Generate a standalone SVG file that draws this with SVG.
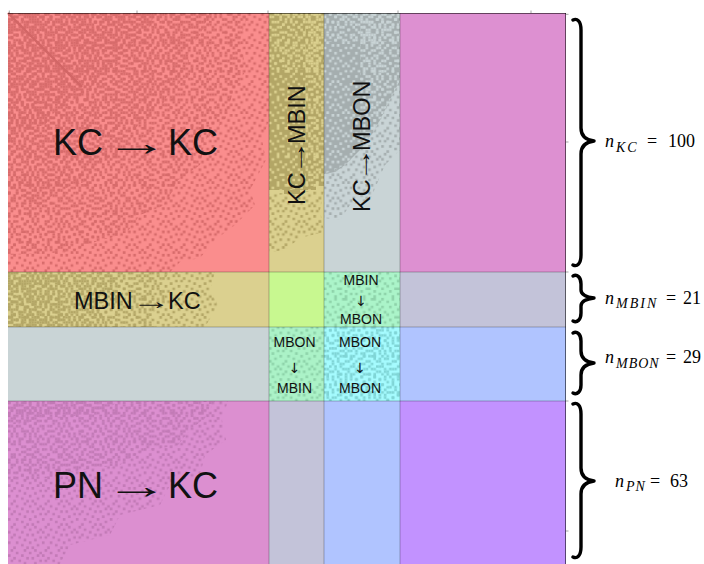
<svg xmlns="http://www.w3.org/2000/svg" width="704" height="564" viewBox="0 0 704 564">
  <style>
    .lbl { font-family: "Liberation Sans", Arial, sans-serif; fill: #111; }
    .big { font-size: 36px; }
    .mid { font-size: 23.5px; }
    .sm { font-size: 14px; }
    .arr { font-family: "DejaVu Sans", sans-serif; }
    .math { font-family: "Liberation Serif", "DejaVu Serif", serif; font-size: 18px; fill: #000; }
    .it { font-style: italic; }
    .sub { font-style: italic; font-size: 14px; }
    .grid { stroke: #000; stroke-opacity: 0.25; stroke-width: 1; }
    .frame { stroke: #000; stroke-opacity: 0.55; stroke-width: 1; }
    .tick { stroke: #000; stroke-width: 0.8; stroke-opacity: 0.45; }
    .brace { fill: none; stroke: #000; stroke-width: 3.4; stroke-linecap: round; stroke-linejoin: round; }
  </style>
  <defs>
    <!-- pseudo-random cell tiles, one unit = one matrix entry -->
    <pattern id="pA" patternUnits="userSpaceOnUse" width="11" height="11" patternTransform="translate(8 13) scale(2.61 2.59)">
      <path fill="#fff" d="M0 0h1v1h-1z M4 0h1v1h-1z M7 0h2v1h-2z M2 1h1v1h-1z M10 1h1v1h-1z M5 2h1v1h-1z M9 2h1v1h-1z M0 3h1v1h-1z M3 3h1v1h-1z M7 3h1v1h-1z M6 4h1v1h-1z M10 4h1v1h-1z M1 5h1v1h-1z M4 5h1v1h-1z M8 5h1v1h-1z M2 6h1v1h-1z M9 6h1v1h-1z M0 7h1v1h-1z M5 7h2v1h-2z M3 8h1v1h-1z M8 8h1v1h-1z M1 9h1v1h-1z M6 9h1v1h-1z M10 9h1v1h-1z M4 10h1v1h-1z M8 10h1v1h-1z"/>
    </pattern>
    <pattern id="pB" patternUnits="userSpaceOnUse" width="13" height="9" patternTransform="translate(8 13) scale(2.61 2.59)">
      <path fill="#fff" d="M1 0h1v1h-1z M6 0h1v1h-1z M10 0h1v1h-1z M3 1h1v1h-1z M8 1h1v1h-1z M12 1h1v1h-1z M0 2h1v1h-1z M5 2h1v1h-1z M11 2h1v1h-1z M2 3h1v1h-1z M7 3h1v1h-1z M9 3h1v1h-1z M1 4h1v1h-1z M4 4h1v1h-1z M12 4h1v1h-1z M6 5h1v1h-1z M10 5h1v1h-1z M0 6h1v1h-1z M3 6h1v1h-1z M8 6h1v1h-1z M5 7h1v1h-1z M11 7h1v1h-1z M2 8h1v1h-1z M7 8h1v1h-1z M9 8h1v1h-1z"/>
    </pattern>
    <pattern id="pC" patternUnits="userSpaceOnUse" width="7" height="13" patternTransform="translate(8 13) scale(2.61 2.59)">
      <path fill="#fff" d="M0 0h1v1h-1z M4 0h1v1h-1z M2 1h1v1h-1z M6 1h1v1h-1z M1 2h1v1h-1z M3 3h1v1h-1z M5 3h1v1h-1z M0 4h1v1h-1z M2 5h1v1h-1z M6 5h1v1h-1z M4 6h1v1h-1z M1 7h1v1h-1z M3 8h1v1h-1z M5 8h1v1h-1z M0 9h1v1h-1z M2 10h1v1h-1z M6 10h1v1h-1z M4 11h1v1h-1z M1 12h1v1h-1z M5 12h1v1h-1z"/>
    </pattern>
    <pattern id="pD" patternUnits="userSpaceOnUse" width="9" height="7" patternTransform="translate(8 13) scale(2.61 2.59)">
      <path fill="#fff" d="M0 0h1v1h-1z M5 0h1v1h-1z M3 1h1v1h-1z M7 1h1v1h-1z M1 2h1v1h-1z M6 3h1v1h-1z M8 3h1v1h-1z M2 4h1v1h-1z M4 4h1v1h-1z M0 5h1v1h-1z M7 5h1v1h-1z M1 6h1v1h-1z M3 6h1v1h-1z M5 6h1v1h-1z"/>
    </pattern>
    <mask id="mA" maskUnits="userSpaceOnUse" x="0" y="0" width="704" height="564"><rect width="704" height="564" fill="url(#pA)"/></mask>
    <mask id="mB" maskUnits="userSpaceOnUse" x="0" y="0" width="704" height="564"><rect width="704" height="564" fill="url(#pB)"/></mask>
    <mask id="mC" maskUnits="userSpaceOnUse" x="0" y="0" width="704" height="564"><rect width="704" height="564" fill="url(#pC)"/></mask>
    <mask id="mD" maskUnits="userSpaceOnUse" x="0" y="0" width="704" height="564"><rect width="704" height="564" fill="url(#pD)"/></mask>
  </defs>

  <rect width="704" height="564" fill="#fff"/>

  <!-- row KC -->
  <g id="kc-kc">
    <rect x="8" y="13" width="261" height="259" fill="#FA8D8D"/>
    <g fill="#D76B6B">
      <polygon points="8,13 269,13 269,120 262,140 266,160 250,190 255,205 235,225 215,240 200,258 180,262 170,272 8,272" mask="url(#mB)"/>
      <polygon points="8,13 248,13 240,40 246,70 232,95 225,120 205,140 200,165 178,180 165,205 140,215 125,235 100,240 70,252 8,255" mask="url(#mA)"/>
      <polygon points="8,13 210,13 200,35 188,50 190,75 170,90 160,110 138,125 128,145 105,160 90,180 60,190 40,205 8,200" mask="url(#mC)"/>
      <polygon points="8,13 155,13 148,30 130,45 118,65 100,75 85,95 60,105 45,125 20,130 8,145" mask="url(#mD)"/>
    </g>
    <line x1="8" y1="13" x2="82" y2="87" stroke="#D26666" stroke-width="2.4"/>
    <text class="lbl big" y="155"><tspan x="53">KC</tspan><tspan x="168">KC</tspan></text>
    <text class="lbl big" x="105" y="155" textLength="64" lengthAdjust="spacingAndGlyphs">→</text>
  </g>
  <g id="kc-mbin">
    <rect x="269" y="13" width="55" height="259" fill="#DBD08F"/>
    <polygon points="269,13 324,13 324,186 316,186 316,190 300,190 300,194 284,194 284,190 269,190" fill="#B3A666"/>
    <g fill="#DBD08F">
      <polygon points="269,13 324,13 324,190 269,190" mask="url(#mA)"/>
      <polygon points="269,13 324,13 324,70 269,70" mask="url(#mC)"/>
      <polygon points="305,13 324,13 324,186 305,186" mask="url(#mD)"/>
    </g>
    <polygon points="269,194 324,190 320,210 324,232 300,238 285,250 269,252" fill="#B3A666" mask="url(#mB)"/>
    <g transform="translate(305 205) rotate(-90)">
      <text class="lbl mid" y="0"><tspan x="0">KC</tspan><tspan x="61">MBIN</tspan></text>
      <text class="lbl mid" x="30" y="0" textLength="35" lengthAdjust="spacingAndGlyphs">→</text>
    </g>
  </g>
  <g id="kc-mbon">
    <rect x="324" y="13" width="76" height="259" fill="#C9D4D6"/>
    <polygon points="324,13 400,13 400,80 390,100 375,130 360,150 345,165 335,172 324,174" fill="#A5AEAF"/>
    <g fill="#C9D4D6">
      <polygon points="324,13 400,13 400,80 390,100 375,130 360,150 345,165 335,172 324,174" mask="url(#mB)"/>
      <polygon points="360,13 400,13 400,100 360,150" mask="url(#mA)"/>
      <polygon points="324,13 400,13 400,42 324,42" mask="url(#mC)"/>
    </g>
    <polygon points="324,174 345,165 360,150 375,130 390,100 400,80 400,150 385,165 370,200 350,205 340,220 324,218" fill="#A5AEAF" mask="url(#mB)"/>
    <g transform="translate(370 212) rotate(-90)">
      <text class="lbl mid" y="0"><tspan x="0">KC</tspan><tspan x="61">MBON</tspan></text>
      <text class="lbl mid" x="30" y="0" textLength="35" lengthAdjust="spacingAndGlyphs">→</text>
    </g>
  </g>
  <g id="kc-pn">
    <rect x="400" y="13" width="166" height="259" fill="#DD90D1"/>
  </g>

  <!-- row MBIN -->
  <g id="mbin-kc">
    <rect x="8" y="272" width="261" height="55" fill="#DBD08F"/>
    <g fill="#B3A666">
      <polygon points="8,272 215,272 210,290 218,305 205,327 8,327" mask="url(#mB)"/>
      <polygon points="8,272 170,272 160,285 168,300 150,315 155,327 8,327" mask="url(#mA)"/>
      <polygon points="8,272 110,272 120,290 100,305 105,327 8,327" mask="url(#mC)"/>
      <polygon points="8,272 65,272 55,295 68,310 60,327 8,327" mask="url(#mD)"/>
    </g>
    <text class="lbl mid" y="308.5"><tspan x="74">MBIN</tspan><tspan x="168">KC</tspan></text>
    <text class="lbl mid" x="131" y="308.5" textLength="40" lengthAdjust="spacingAndGlyphs">→</text>
  </g>
  <g id="mbin-mbin">
    <rect x="269" y="272" width="55" height="55" fill="#C8F890"/>
  </g>
  <g id="mbin-mbon">
    <rect x="324" y="272" width="76" height="55" fill="#ABF4C9"/>
    <rect x="324" y="272" width="76" height="55" fill="#8ED3AA" mask="url(#mA)"/>
    <text class="lbl sm" text-anchor="middle"><tspan x="361" y="285">MBIN</tspan><tspan class="arr" x="361" y="306">↓</tspan><tspan x="361" y="324">MBON</tspan></text>
  </g>
  <g id="mbin-pn">
    <rect x="400" y="272" width="166" height="55" fill="#C3C3D9"/>
  </g>

  <!-- row MBON -->
  <g id="mbon-kc">
    <rect x="8" y="327" width="261" height="74" fill="#C9D4D6"/>
  </g>
  <g id="mbon-mbin">
    <rect x="269" y="327" width="55" height="74" fill="#ABF2C7"/>
    <rect x="269" y="327" width="55" height="74" fill="#8ED3AA" mask="url(#mB)"/>
    <text class="lbl sm" text-anchor="middle"><tspan x="294.5" y="347">MBON</tspan><tspan class="arr" x="294.5" y="373">↓</tspan><tspan x="294.5" y="393">MBIN</tspan></text>
  </g>
  <g id="mbon-mbon">
    <rect x="324" y="327" width="76" height="74" fill="#A5FBFE"/>
    <g fill="#80D5D6">
      <rect x="324" y="327" width="76" height="74" mask="url(#mA)"/>
      <rect x="324" y="327" width="76" height="74" mask="url(#mD)"/>
    </g>
    <text class="lbl sm" text-anchor="middle"><tspan x="360" y="347">MBON</tspan><tspan class="arr" x="360" y="373">↓</tspan><tspan x="360" y="393">MBON</tspan></text>
  </g>
  <g id="mbon-pn">
    <rect x="400" y="327" width="166" height="74" fill="#B0C4FF"/>
  </g>

  <!-- row PN -->
  <g id="pn-kc">
    <rect x="8" y="401" width="261" height="165" fill="#DC8FD0"/>
    <g fill="#C27AB6">
      <polygon points="8,401 228,401 222,420 226,440 205,455 200,475 170,485 160,505 120,515 110,535 70,545 60,564 8,564" mask="url(#mB)"/>
      <polygon points="8,401 215,401 205,418 190,430 178,445 140,452 120,465 80,470 50,478 8,482" mask="url(#mA)"/>
      <polygon points="8,401 120,401 100,412 60,418 8,425" mask="url(#mD)"/>
    </g>
    <text class="lbl big" y="498"><tspan x="53">PN</tspan><tspan x="168">KC</tspan></text>
    <text class="lbl big" x="105" y="498" textLength="64" lengthAdjust="spacingAndGlyphs">→</text>
  </g>
  <g id="pn-mbin">
    <rect x="269" y="401" width="55" height="165" fill="#C3C3D9"/>
  </g>
  <g id="pn-mbon">
    <rect x="324" y="401" width="76" height="165" fill="#B0C4FF"/>
  </g>
  <g id="pn-pn">
    <rect x="400" y="401" width="166" height="165" fill="#C292FF"/>
  </g>

  <!-- block separators, frame and ticks -->
  <g id="connectors">
    <line class="grid" x1="269" y1="13" x2="269" y2="564"/>
    <line class="grid" x1="324" y1="13" x2="324" y2="564"/>
    <line class="grid" x1="400" y1="13" x2="400" y2="564"/>
    <line class="grid" x1="8" y1="272" x2="566" y2="272"/>
    <line class="grid" x1="8" y1="327" x2="566" y2="327"/>
    <line class="grid" x1="8" y1="401" x2="566" y2="401"/>
    <line class="frame" x1="8" y1="13.5" x2="566" y2="13.5"/>
    <line class="frame" x1="565.5" y1="13" x2="565.5" y2="564"/>
    <path class="tick" d="M9.3 10.5v2.5 M137 10.5v2.5 M268 10.5v2.5 M398 10.5v2.5 M531 10.5v2.5 M566 14.3h2.5 M566 142h2.5 M566 272h2.5 M566 401h2.5 M566 531h2.5"/>
  </g>

  <!-- braces with block sizes -->
  <g id="brace-kc">
    <path class="brace" d="M573,20 C577,18 581,21 581,30 L581,128 C581,136 586,140 594,141 C586,142 581,146 581,154 L581,255 C581,264 577,267 573,265"/>
    <text class="math"><tspan class="it" x="605" y="147">n</tspan><tspan class="sub" x="616" y="151.5" letter-spacing="2">KC</tspan><tspan x="647" y="147">=</tspan><tspan x="668" y="147">100</tspan></text>
  </g>
  <g id="brace-mbin">
    <path class="brace" d="M573,276 C577,274 581,277 581,284 L581,290 C581,295 586,297 594,298 C586,299 581,301 581,306 L581,313 C581,320 577,323 573,321"/>
    <text class="math"><tspan class="it" x="605" y="303.5">n</tspan><tspan class="sub" x="616" y="308" letter-spacing="2">MBIN</tspan><tspan x="666" y="303.5">=</tspan><tspan x="683" y="303.5">21</tspan></text>
  </g>
  <g id="brace-mbon">
    <path class="brace" d="M573,333 C577,331 581,334 581,341 L581,351 C581,358 586,362 594,363 C586,364 581,368 581,375 L581,385 C581,392 577,395 573,393"/>
    <text class="math"><tspan class="it" x="605" y="363">n</tspan><tspan class="sub" x="616" y="367.5" letter-spacing="1">MBON</tspan><tspan x="666" y="363">=</tspan><tspan x="683" y="363">29</tspan></text>
  </g>
  <g id="brace-pn">
    <path class="brace" d="M573,404 C577,402 581,405 581,414 L581,468 C581,476 586,480 594,481 C586,482 581,486 581,494 L581,547 C581,556 577,559 573,557"/>
    <text class="math"><tspan class="it" x="615" y="486.5">n</tspan><tspan class="sub" x="626" y="491" letter-spacing="1">PN</tspan><tspan x="650" y="486.5">=</tspan><tspan x="670" y="486.5">63</tspan></text>
  </g>
</svg>
